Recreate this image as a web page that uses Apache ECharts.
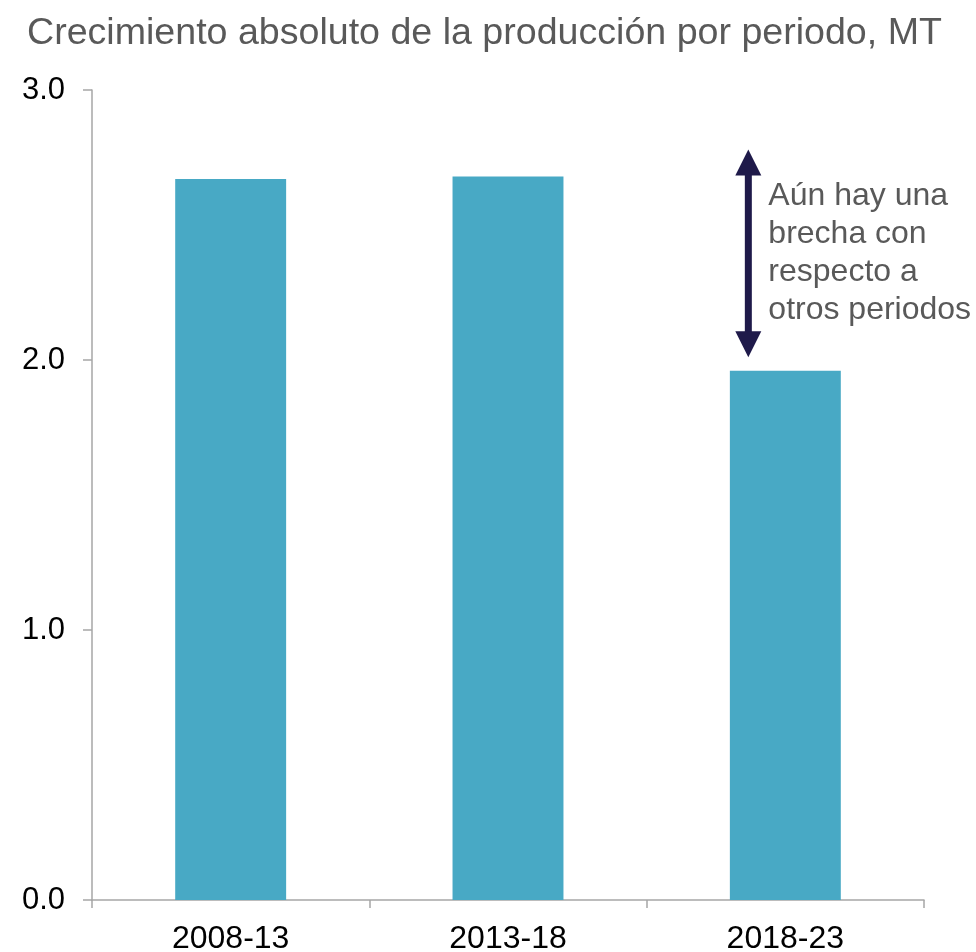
<!DOCTYPE html>
<html lang="es">
<head>
    <meta charset="UTF-8">
    <title>Crecimiento absoluto de la producción</title>
    <script src="https://cdn.jsdelivr.net/npm/echarts@6/dist/echarts.min.js"></script>
    <style>
        html, body { margin: 0; padding: 0; background: #fff; }
        #chart { width: 976px; height: 952px; }
    </style>
</head>
<body>
    <div id="chart"></div>

    <script>
        // datos
        const periods = ['2008-13', '2013-18', '2018-23'];
        const growth = [2.67, 2.68, 1.96];
        const yTicks = [0, 1, 2, 3];
        // extremos de la flecha (en valores del eje)
        const gapTop = 2.78;
        const gapBottom = 2.01;
        const noteLines = ['Aún hay una', 'brecha con', 'respecto a', 'otros periodos'];

        const FONT = '"Liberation Sans", Arial, sans-serif';
        const chart = echarts.init(document.getElementById('chart'));

        chart.setOption({
            animation: false,
            title: {
                text: 'Crecimiento absoluto de la producción por periodo, MT',
                left: 22,
                top: 10,
                textStyle: { fontFamily: FONT, fontSize: 37.6, fontWeight: 'normal', color: '#595959' }
            },
            grid: { left: 92, right: 52, top: 90, bottom: 52, containLabel: false, outerBoundsMode: 'none' },
            xAxis: {
                type: 'category',
                data: periods,
                axisLine: { lineStyle: { color: '#a6a6a6', width: 1.5 } },
                axisTick: { show: true, length: 8, lineStyle: { color: '#a6a6a6', width: 1.5 } },
                axisLabel: { fontFamily: FONT, fontSize: 32, color: '#000', margin: 23 }
            },
            yAxis: {
                type: 'value',
                min: yTicks[0],
                max: yTicks[yTicks.length - 1],
                interval: 1,
                axisLine: { show: true, lineStyle: { color: '#a6a6a6', width: 1.5 } },
                axisTick: { show: true, length: 9, lineStyle: { color: '#a6a6a6', width: 1.5 } },
                splitLine: { show: false },
                axisLabel: {
                    fontFamily: FONT, fontSize: 31, color: '#000', margin: 27,
                    formatter: v => v.toFixed(1)
                }
            },
            series: [{
                type: 'bar',
                data: growth,
                barWidth: '40%',
                itemStyle: { color: '#48a9c5' }
            }]
        });

        // flecha doble y nota sobre la brecha
        const x3 = chart.convertToPixel({ xAxisIndex: 0 }, periods[2]);
        const yTop = chart.convertToPixel({ yAxisIndex: 0 }, gapTop);
        const yBot = chart.convertToPixel({ yAxisIndex: 0 }, gapBottom);
        const ax = x3 - 37;
        const head = 26;
        const navy = '#1f1a4a';

        chart.setOption({
            graphic: [
                {
                    type: 'line',
                    shape: { x1: ax, y1: yTop + head - 2, x2: ax, y2: yBot - head + 2 },
                    style: { stroke: navy, lineWidth: 7 }
                },
                {
                    type: 'polygon',
                    shape: { points: [[ax, yTop], [ax - 13, yTop + head], [ax + 13, yTop + head]] },
                    style: { fill: navy }
                },
                {
                    type: 'polygon',
                    shape: { points: [[ax, yBot], [ax - 13, yBot - head], [ax + 13, yBot - head]] },
                    style: { fill: navy }
                },
                {
                    type: 'text',
                    left: ax + 20,
                    top: yTop + 28,
                    style: {
                        text: noteLines.join('\n'),
                        font: '32px ' + FONT,
                        lineHeight: 38,
                        fill: '#595959'
                    }
                }
            ]
        });

        window.addEventListener('resize', () => chart.resize());
    </script>
</body>
</html>
